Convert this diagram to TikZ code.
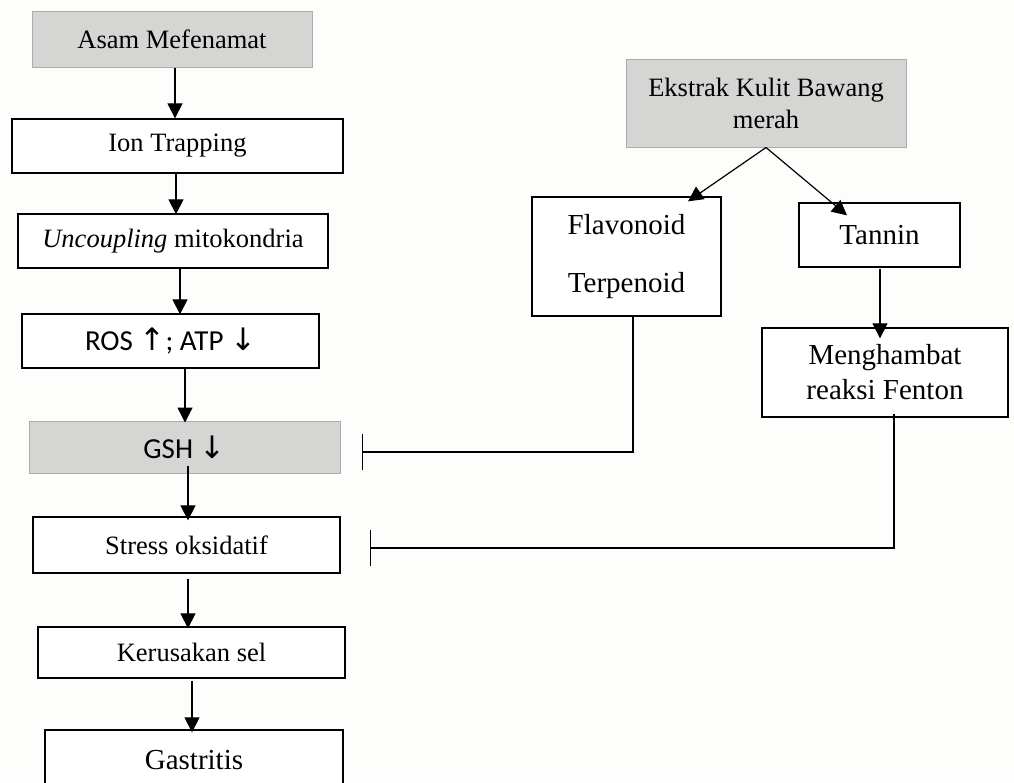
\documentclass[tikz,border=0pt]{standalone}
\usepackage{fontspec}
\setmainfont{Liberation Serif}
\newfontfamily\carlito{Carlito}
\newfontfamily\dejavu{DejaVu Sans}
\usetikzlibrary{arrows.meta}
\definecolor{boxgray}{RGB}{213,213,211}
\definecolor{grayedge}{RGB}{172,172,172}
\definecolor{bgcol}{RGB}{253,253,251}
\newcommand{\upar}{{\dejavu\fontsize{31}{30}\selectfont ↑}}
\newcommand{\downar}{{\dejavu\fontsize{31}{30}\selectfont ↓}}
\begin{document}
\begin{tikzpicture}[x=1pt,y=-1pt,
  box/.style={draw=black, line width=1.3pt, fill=white, inner sep=0pt, align=center,
    font=\fontsize{26.5}{32}\selectfont},
  gbox/.style={box, draw=grayedge, line width=1pt, fill=boxgray},
  sansbox/.style={font=\carlito\fontsize{29}{34}\selectfont},
  arr/.style={line width=1.2pt, -{Triangle[width=15pt,length=15pt]}},
  inh/.style={line width=1.1pt, -{Bar[width=36pt]}}]
\useasboundingbox (0,0) rectangle (1014,782);
\fill[bgcol] (0,0) rectangle (1014,782);
\clip (0,0) rectangle (1014,782);

% left column
\node[gbox, minimum width=280pt, minimum height=56pt] (asam) at (172,39) {Asam Mefenamat};
\node[box, minimum width=331pt, minimum height=54pt] (ion) at (177.5,146) {Ion Trapping};
\node[box, minimum width=310pt, minimum height=54pt] (unc) at (173,241) {\textit{Uncoupling} mitokondria};
\node[box, sansbox, minimum width=297pt, minimum height=54pt] (ros) at (170.5,341) {ROS \upar; ATP \downar};
\node[gbox, sansbox, minimum width=311pt, minimum height=52pt] (gsh) at (184.5,447) {\raisebox{-4pt}{GSH \downar}};
\node[box, minimum width=307pt, minimum height=56pt] (stress) at (186.5,545) {Stress oksidatif};
\node[box, minimum width=307pt, minimum height=51pt] (kerus) at (191.5,652.5) {Kerusakan sel};
\node[box, minimum width=298pt, minimum height=60pt, font=\fontsize{29}{34}\selectfont] (gast) at (194,760) {Gastritis};

\draw[arr] (asam.south -| 175,0) -- (ion.north -| 175,0);
\draw[arr] (ion.south -| 176,0) -- ([yshift=-1pt]unc.north -| 176,0);
\draw[arr] (unc.south -| 180,0) -- ([yshift=-1pt]ros.north -| 180,0);
\draw[arr] (ros.south -| 185,0) -- ([yshift=-2pt]gsh.north -| 185,0);
\draw[arr] ([yshift=8pt]gsh.south -| 188,0) -- ([yshift=-4pt]stress.north -| 188,0);
\draw[arr] ([yshift=-5pt]stress.south -| 188,0) -- ([yshift=-2pt]kerus.north -| 188,0);
\draw[arr] ([yshift=-2pt]kerus.south -| 192,0) -- ([yshift=-3pt]gast.north -| 192,0);

% right column
\node[gbox, minimum width=280pt, minimum height=88pt] (ekstrak) at (766,103) {Ekstrak Kulit Bawang\\merah};
\node[box, minimum width=189pt, minimum height=119pt, font=\fontsize{29}{58}\selectfont] (flav) at (626.5,256.5) {Flavonoid\\Terpenoid};
\node[box, minimum width=161pt, minimum height=64pt, font=\fontsize{29}{34}\selectfont] (tannin) at (879.5,235) {Tannin};
\node[box, minimum width=246pt, minimum height=89pt, font=\fontsize{29}{35}\selectfont] (feng) at (885,372.5) {Menghambat\\reaksi Fenton};

\draw[arr] (ekstrak.south) -- ([yshift=-5pt]flav.north -| 688,0);
\draw[arr] (ekstrak.south) -- ([yshift=-13pt]tannin.north -| 847,0);
\draw[arr] ([yshift=-1pt]tannin.south -| 880,0) -- ([yshift=-11pt]feng.north -| 880,0);

% inhibition lines
\coordinate (gshbar) at (362,452);
\coordinate (stbar) at (370,548);
\draw[inh] (flav.south -| 633,0) |- (gshbar);
\draw[inh] ([yshift=4pt]feng.south -| 894,0) |- (stbar);
\end{tikzpicture}
\end{document}
